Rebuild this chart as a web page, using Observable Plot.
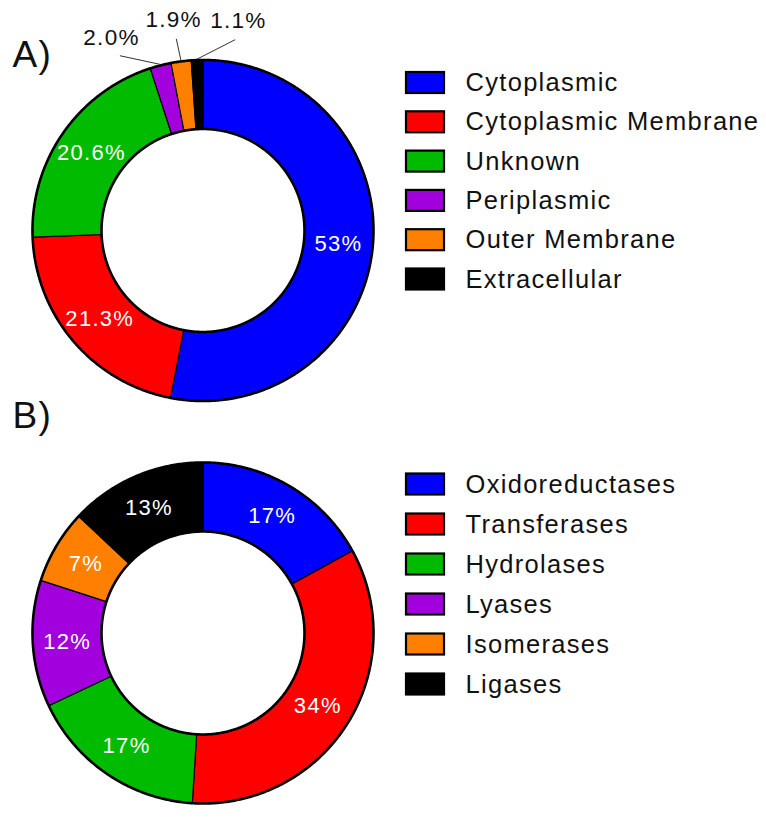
<!DOCTYPE html>
<html><head><meta charset="utf-8">
<script src="https://cdn.jsdelivr.net/npm/d3@7"></script>
<script src="https://cdn.jsdelivr.net/npm/@observablehq/plot@0.6"></script>
<style>
body{margin:0;background:#fff}
svg text{letter-spacing:1.3px}
</style>
</head><body><div id="chart"></div>
<script>
// ---- data ----
const categoriesA = ["Cytoplasmic", "Cytoplasmic Membrane", "Unknown", "Periplasmic", "Outer Membrane", "Extracellular"];
const valuesA = [53, 21.3, 20.6, 2.0, 1.9, 1.1];
const labelsA = ["53%", "21.3%", "20.6%", "2.0%", "1.9%", "1.1%"];
const categoriesB = ["Oxidoreductases", "Transferases", "Hydrolases", "Lyases", "Isomerases", "Ligases"];
const valuesB = [17, 34, 17, 12, 7, 13];
const labelsB = ["17%", "34%", "17%", "12%", "7%", "13%"];
const colors = ["#0000FF", "#FF0000", "#00BB00", "#A200DC", "#FF8000", "#000000"];
const panelLetters = ["A)", "B)"];

// ---- layout ----
const W = 766, H = 819;
const R = 170.5, r0 = 101.5;
const FONT = "Liberation Sans, Arial, sans-serif";
const panels = [
  {cats: categoriesA, vals: valuesA, labs: labelsA, cx: 202.5, cy: 230, legY: 82.5, legStep: 39.3, letterY: 66},
  {cats: categoriesB, vals: valuesB, labs: labelsB, cx: 202.5, cy: 632.5, legY: 484, legStep: 40, letterY: 427}
];
function pt(cx, cy, rho, deg) {
  const t = deg * Math.PI / 180;
  return {x: cx + rho * Math.sin(t), y: cy - rho * Math.cos(t)};
}
function arcPts(cx, cy, rho, a0, a1) {
  const n = Math.max(2, Math.ceil(Math.abs(a1 - a0) / 0.5));
  return d3.range(n + 1).map(i => pt(cx, cy, rho, a0 + (a1 - a0) * i / n));
}

const marks = [];
panels.forEach((p, pi) => {
  const total = d3.sum(p.vals);
  let acc = 0;
  const slices = p.vals.map((v, i) => {
    const a0 = acc / total * 360; acc += v; const a1 = acc / total * 360;
    return {i, v, a0, a1, mid: (a0 + a1) / 2, color: colors[i], label: p.labs[i], small: v / total < 0.05};
  });
  slices.forEach(s => {
    const poly = arcPts(p.cx, p.cy, R, s.a0, s.a1).concat(arcPts(p.cx, p.cy, r0, s.a1, s.a0));
    marks.push(Plot.line(poly, {x: "x", y: "y", fill: s.color, stroke: "#000", strokeWidth: 1.2, curve: "linear-closed"}));
  });
  marks.push(Plot.line(arcPts(p.cx, p.cy, R, 0, 360), {x: "x", y: "y", stroke: "#000", strokeWidth: 2.6, curve: "linear-closed"}));
  marks.push(Plot.line(arcPts(p.cx, p.cy, r0, 0, 360), {x: "x", y: "y", stroke: "#000", strokeWidth: 2.6, curve: "linear-closed"}));
  const inner = slices.filter(s => !s.small).map(s => ({...pt(p.cx, p.cy, (R + r0) / 2, s.mid), label: s.label}));
  marks.push(Plot.text(inner, {x: "x", y: "y", text: "label", fill: "#fff", fontSize: 22, fontFamily: FONT, textAnchor: "middle", lineAnchor: "middle"}));
  const small = slices.filter(s => s.small);
  if (small.length) {
    const mean = d3.mean(small, s => s.mid);
    const spread = 17.5;
    const outer = small.map((s, k) => {
      const la = mean + (k - (small.length - 1) / 2) * spread;
      return {s, la, ...pt(p.cx, p.cy, 213, la)};
    });
    marks.push(Plot.link(outer, {
      x1: d => pt(p.cx, p.cy, R + 1, d.s.mid).x, y1: d => pt(p.cx, p.cy, R + 1, d.s.mid).y,
      x2: d => pt(p.cx, p.cy, R + 23, d.la).x, y2: d => pt(p.cx, p.cy, R + 23, d.la).y,
      stroke: "#333", strokeWidth: 1
    }));
    marks.push(Plot.text(outer, {x: "x", y: "y", text: d => d.s.label, fill: "#111", fontSize: 22.5, fontFamily: FONT, textAnchor: "middle", lineAnchor: "middle"}));
  }
  const leg = p.cats.map((c, i) => ({c, color: colors[i], y: p.legY + i * p.legStep}));
  marks.push(Plot.rect(leg, {x1: 406, x2: 444, y1: d => d.y - 10.5, y2: d => d.y + 10.5, fill: "color", stroke: "#000", strokeWidth: 2.2}));
  marks.push(Plot.text(leg, {x: 465, y: "y", text: "c", fill: "#111", fontSize: 25.5, fontFamily: FONT, textAnchor: "start", lineAnchor: "middle"}));
  marks.push(Plot.text([panelLetters[pi]], {x: 12, y: p.letterY, text: d => d, fill: "#111", fontSize: 37, fontFamily: FONT, textAnchor: "start", lineAnchor: "bottom"}));
});

const chart = Plot.plot({
  width: W, height: H, margin: 0,
  x: {domain: [0, W], range: [0, W], axis: null},
  y: {domain: [0, H], range: [0, H], axis: null},
  color: {type: "identity"},
  style: {background: "#fff"},
  marks
});
document.getElementById("chart").append(chart);
</script>
</body></html>
